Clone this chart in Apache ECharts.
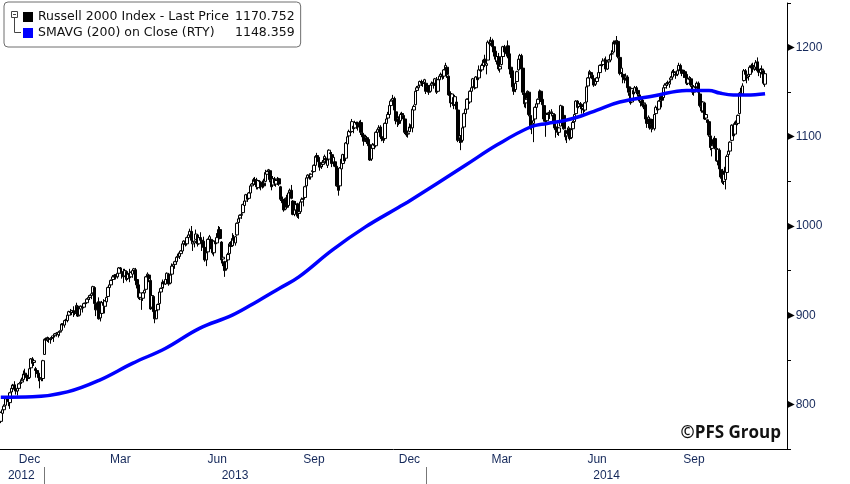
<!DOCTYPE html>
<html>
<head>
<meta charset="utf-8">
<title>Russell 2000 Index</title>
<script src="https://cdn.jsdelivr.net/npm/echarts@6/dist/echarts.min.js"></script>
<style>
  html, body { margin: 0; padding: 0; background: #fff; }
  #chart { width: 850px; height: 484px; }
</style>
</head>
<body>
<div id="chart"></div>
<script>
// trading calendar: weekdays from Nov 19 2012 to Dec 11 2014, minus exchange holidays
const firstDay = '2012-11-19'
const lastDay = '2014-12-11'
const holidays = [
  '2012-11-22', '2012-12-25',
  '2013-01-01', '2013-01-21', '2013-02-18', '2013-03-29', '2013-05-27', '2013-07-04', '2013-09-02', '2013-11-28', '2013-12-25',
  '2014-01-01', '2014-01-20', '2014-02-17', '2014-04-18', '2014-05-26', '2014-07-04', '2014-09-01', '2014-11-27'
]

// daily bars, one row per trading day starting Nov 19 2012: [open, close, low, high]
const ohlc = [
  // 2012-11
  [781,791,779,792],[790,794,785,795],[794,798,792,800],[799,808,798,809],[807,806,801,808],[806,803,798,810],[802,813,795,814],[814,818,811,822],[818,821,814,823],
  // 2012-12
  [822,817,815,826],[817,815,811,819],[815,818,810,820],[818,823,816,824],[824,825,819,828],
  [825,827,823,830],[828,834,827,838],[835,833,830,840],[833,830,826,835],[830,829,826,832],
  [830,840,829,841],[841,851,839,852],[851,846,844,853],[847,849,843,850],[840,838,830,842],
  [838,835,834,840],[835,830,826,837],[830,829,818,832],[828,829,826,834],[829,849,826,850],
  // 2013-01
  [856,873,856,874],[873,872,868,875],[872,875,870,876],[874,873,869,875],[873,873,868,875],
  [874,875,872,877],[877,877,870,879],[877,879,875,880],[879,880,876,881],[878,881,875,882],
  [881,882,877,883],[883,890,883,891],[890,889,885,891],[889,894,886,895],[894,894,889,896],
  [894,900,892,901],[900,904,899,905],[904,903,900,907],[903,905,900,906],[905,903,898,910],[903,902,900,905],
  // 2013-02
  [903,911,903,914],[910,899,898,911],[900,909,900,910],[907,910,904,911],[910,908,903,911],
  [909,913,908,914],[913,914,910,915],[914,918,913,919],[918,920,916,922],[920,922,917,923],
  [922,924,918,926],[925,932,924,933],[931,913,912,932],[912,906,899,913],[907,914,906,915],
  [915,896,895,920],[897,902,893,904],[902,914,901,916],[914,911,909,918],
  // 2013-03
  [910,916,902,917],[915,920,910,921],[921,931,921,932],[931,934,930,936],[934,939,932,940],
  [940,943,937,945],[943,945,940,946],[945,943,940,946],[943,947,941,948],[947,953,947,954],
  [953,952,948,954],[947,948,941,952],[949,943,936,952],[944,950,944,952],[949,940,938,949],
  [941,946,940,947],[947,942,937,952],[943,948,942,949],[946,950,942,951],[950,952,948,953],
  // 2013-04
  [951,939,937,953],[940,934,930,941],[934,920,918,936],[920,925,917,926],[918,918,906,919],
  [919,925,916,926],[925,928,923,930],[929,943,929,944],[943,946,941,948],[945,941,937,946],
  [939,907,906,941],[909,922,909,923],[921,904,900,922],[905,896,891,907],[896,905,896,907],
  [906,912,901,913],[913,926,912,927],[926,930,924,931],[931,937,930,940],[937,935,930,938],
  [935,940,934,942],[940,947,937,948],
  // 2013-05
  [946,935,933,947],[936,945,936,946],[946,955,945,958],[955,957,953,959],[957,960,952,961],
  [960,965,957,966],[965,966,962,969],[966,970,963,971],[969,972,966,973],[972,980,971,981],
  [980,983,977,984],[983,979,977,985],[980,987,978,988],[987,990,985,992],[990,994,988,997],
  [994,984,981,1000],[980,982,972,985],[981,983,976,984],[985,991,985,996],[990,980,977,991],
  [980,987,979,989],[987,984,983,993],
  // 2013-06
  [984,983,972,985],[983,976,972,988],[976,962,960,977],[962,970,955,971],[971,985,970,986],
  [985,988,984,990],[985,977,974,987],[978,970,968,982],[970,983,966,984],[983,980,977,985],
  [981,987,980,992],[987,996,986,1000],[996,986,985,999],[982,962,958,983],[963,965,955,968],
  [960,950,943,961],[952,960,950,962],[962,968,960,970],[969,980,968,982],[979,977,973,983],
  // 2013-07
  [978,986,978,992],[985,984,978,990],[981,988,978,989],[990,1003,989,1004],[1004,1008,1003,1010],
  [1009,1012,1004,1013],[1012,1013,1008,1015],[1015,1024,1014,1025],[1023,1028,1021,1029],[1028,1035,1027,1036],
  [1035,1030,1027,1036],[1031,1037,1030,1038],[1037,1045,1036,1047],[1045,1047,1041,1048],[1047,1052,1046,1054],
  [1052,1050,1046,1055],[1051,1044,1041,1054],[1043,1051,1041,1052],[1050,1050,1042,1051],[1049,1044,1040,1050],
  [1045,1047,1042,1051],[1048,1045,1043,1053],
  // 2013-08
  [1050,1060,1049,1063],[1058,1061,1054,1062],[1061,1063,1057,1064],[1062,1052,1049,1063],[1051,1044,1040,1052],
  [1046,1053,1044,1056],[1053,1048,1045,1055],[1047,1051,1044,1052],[1052,1053,1046,1055],[1053,1047,1045,1054],
  [1044,1030,1028,1045],[1030,1026,1023,1033],[1027,1018,1016,1030],[1019,1031,1018,1032],[1030,1021,1019,1035],
  [1023,1037,1022,1038],[1038,1040,1035,1042],[1040,1031,1030,1046],[1028,1013,1012,1029],[1013,1018,1011,1022],
  [1018,1024,1015,1028],[1025,1011,1009,1026],
  // 2013-09
  [1014,1016,1008,1022],[1016,1027,1014,1028],[1027,1030,1025,1032],[1031,1030,1022,1034],[1032,1044,1031,1045],
  [1045,1054,1044,1055],[1054,1057,1052,1058],[1057,1054,1052,1059],[1055,1058,1052,1059],[1062,1061,1057,1066],
  [1061,1068,1060,1069],[1068,1078,1064,1079],[1079,1077,1073,1082],[1077,1072,1070,1078],[1071,1066,1062,1073],
  [1067,1069,1064,1072],[1069,1071,1066,1074],[1072,1078,1071,1080],[1076,1074,1070,1077],[1068,1074,1065,1076],
  // 2013-10
  [1075,1085,1074,1086],[1082,1081,1074,1083],[1080,1070,1066,1083],[1070,1077,1068,1078],[1072,1067,1066,1076],
  [1067,1045,1044,1068],[1046,1040,1034,1050],[1045,1065,1045,1066],[1064,1075,1063,1076],[1070,1080,1068,1081],
  [1080,1073,1071,1084],[1076,1093,1076,1094],[1092,1100,1090,1101],[1101,1106,1099,1108],[1106,1105,1101,1109],
  [1106,1117,1106,1120],[1112,1109,1104,1114],[1110,1116,1109,1118],[1116,1114,1109,1117],[1114,1111,1107,1117],
  [1112,1116,1110,1118],[1116,1105,1102,1119],[1104,1100,1097,1108],
  // 2013-11
  [1102,1095,1090,1104],[1096,1100,1094,1102],[1099,1096,1092,1101],[1097,1090,1087,1098],[1091,1074,1073,1093],
  [1075,1087,1073,1088],[1087,1091,1086,1093],[1090,1092,1086,1094],[1090,1105,1088,1106],[1105,1108,1103,1110],
  [1108,1110,1106,1113],[1111,1100,1098,1113],[1100,1098,1095,1103],[1099,1096,1093,1104],[1098,1115,1098,1116],
  [1115,1120,1114,1121],[1121,1125,1119,1128],[1125,1135,1124,1137],[1135,1140,1134,1142],[1141,1143,1139,1147],
  // 2013-12
  [1143,1130,1127,1145],[1128,1118,1114,1130],[1117,1121,1111,1124],[1120,1115,1113,1123],[1118,1125,1116,1127],
  [1126,1125,1121,1128],[1124,1120,1117,1126],[1120,1105,1103,1121],[1105,1102,1100,1108],[1103,1104,1099,1107],
  [1106,1111,1105,1115],[1111,1110,1106,1114],[1110,1131,1105,1132],[1130,1134,1127,1136],[1136,1151,1135,1152],
  [1152,1155,1150,1157],[1155,1157,1154,1158],[1158,1162,1157,1163],[1162,1160,1157,1164],[1160,1160,1156,1162],
  [1161,1164,1158,1165],
  // 2014-01
  [1160,1151,1148,1161],[1151,1156,1150,1158],[1157,1150,1147,1158],[1151,1158,1150,1159],[1158,1160,1155,1162],
  [1161,1159,1154,1163],[1160,1165,1157,1166],[1164,1150,1148,1167],[1151,1164,1150,1165],[1164,1168,1162,1170],
  [1168,1170,1165,1172],[1170,1167,1164,1172],[1168,1175,1165,1176],[1175,1180,1173,1183],[1178,1170,1166,1179],
  [1168,1147,1146,1169],[1148,1138,1133,1151],[1138,1148,1137,1149],[1144,1135,1131,1146],[1136,1145,1135,1147],
  [1139,1131,1125,1140],
  // 2014-02
  [1130,1096,1094,1132],[1097,1101,1093,1106],[1099,1094,1085,1102],[1096,1110,1095,1111],[1111,1126,1108,1127],
  [1126,1131,1124,1132],[1131,1142,1130,1143],[1142,1143,1138,1145],[1139,1151,1137,1152],[1151,1155,1148,1157],
  [1156,1165,1155,1166],[1164,1155,1153,1167],[1155,1167,1154,1168],[1167,1164,1162,1171],[1166,1175,1165,1180],
  [1175,1174,1169,1177],[1175,1180,1173,1182],[1180,1186,1177,1187],[1187,1183,1178,1192],
  // 2014-03
  [1180,1182,1170,1184],[1186,1206,1186,1208],[1206,1204,1200,1209],[1205,1207,1202,1212],[1208,1201,1196,1210],
  [1201,1195,1190,1202],[1196,1187,1184,1198],[1185,1190,1181,1191],[1190,1176,1174,1194],[1176,1179,1172,1181],
  [1181,1190,1180,1192],[1190,1201,1189,1202],[1201,1195,1190,1203],[1193,1200,1190,1201],[1202,1192,1188,1208],
  [1193,1176,1170,1194],[1178,1172,1166,1181],[1174,1156,1155,1176],[1155,1151,1147,1158],[1153,1160,1150,1165],
  [1162,1173,1161,1174],
  // 2014-04
  [1175,1187,1174,1188],[1187,1191,1185,1193],[1191,1176,1173,1193],[1177,1150,1147,1181],[1149,1137,1133,1151],
  [1138,1142,1132,1144],[1143,1151,1141,1152],[1150,1125,1123,1151],[1124,1111,1108,1125],[1113,1114,1103,1118],
  [1115,1118,1094,1120],[1120,1133,1118,1134],[1133,1137,1129,1138],[1137,1142,1134,1143],[1143,1151,1142,1153],
  [1151,1141,1139,1152],[1142,1136,1129,1145],[1135,1120,1117,1136],[1121,1117,1100,1122],[1118,1125,1116,1127],
  [1125,1127,1120,1128],
  // 2014-05
  [1127,1126,1120,1130],[1127,1128,1123,1131],[1124,1126,1115,1127],[1125,1110,1109,1126],[1111,1108,1099,1113],
  [1109,1105,1102,1115],[1105,1110,1101,1111],[1112,1135,1112,1136],[1134,1124,1122,1135],[1124,1109,1108,1125],
  [1107,1100,1096,1108],[1101,1104,1093,1105],[1102,1110,1101,1112],[1109,1098,1096,1110],[1099,1108,1098,1110],
  [1109,1116,1108,1118],[1117,1125,1116,1126],[1126,1140,1126,1141],[1140,1133,1131,1141],[1134,1137,1132,1139],
  [1137,1135,1131,1139],
  // 2014-06
  [1136,1134,1126,1137],[1132,1130,1125,1134],[1130,1138,1128,1139],[1139,1156,1138,1157],[1157,1166,1156,1167],
  [1166,1173,1165,1175],[1172,1170,1166,1173],[1169,1165,1162,1171],[1165,1158,1156,1167],[1159,1162,1157,1164],
  [1162,1166,1159,1167],[1166,1172,1164,1174],[1172,1180,1170,1181],[1181,1180,1176,1183],[1181,1185,1179,1188],
  [1186,1186,1180,1188],[1186,1176,1173,1190],[1176,1184,1175,1186],[1184,1186,1179,1187],[1186,1192,1184,1193],
  [1193,1193,1189,1197],
  // 2014-07
  [1195,1206,1194,1208],[1206,1204,1200,1208],[1205,1208,1203,1213],[1207,1190,1188,1208],[1189,1171,1169,1190],
  [1172,1177,1170,1179],[1170,1167,1160,1172],[1168,1164,1160,1170],[1166,1168,1163,1171],[1167,1155,1151,1169],
  [1156,1150,1146,1158],[1149,1138,1136,1152],[1139,1154,1138,1155],[1152,1148,1144,1153],[1150,1155,1149,1157],
  [1155,1151,1148,1157],[1152,1148,1145,1154],[1147,1140,1138,1148],[1140,1142,1134,1144],[1141,1135,1133,1145],
  [1137,1138,1131,1141],[1136,1120,1118,1137],
  // 2014-08
  [1120,1115,1110,1123],[1116,1122,1113,1124],[1120,1110,1108,1122],[1109,1114,1105,1118],[1115,1110,1108,1120],
  [1109,1125,1107,1126],[1126,1133,1125,1135],[1133,1130,1127,1135],[1131,1140,1130,1141],[1140,1145,1138,1146],
  [1145,1141,1133,1148],[1144,1155,1144,1156],[1155,1158,1153,1160],[1158,1160,1154,1161],[1161,1160,1157,1163],
  [1159,1161,1155,1163],[1164,1166,1161,1168],[1167,1173,1166,1175],[1173,1172,1169,1176],[1170,1169,1165,1172],
  [1170,1174,1168,1176],
  // 2014-09
  [1175,1180,1173,1183],[1180,1174,1172,1182],[1175,1171,1168,1178],[1171,1173,1166,1174],[1173,1170,1166,1175],
  [1170,1160,1158,1172],[1160,1165,1158,1166],[1164,1166,1161,1168],[1165,1158,1156,1167],[1157,1150,1147,1158],
  [1150,1156,1146,1158],[1156,1155,1152,1160],[1156,1160,1154,1162],[1160,1150,1148,1162],[1148,1135,1133,1150],
  [1134,1129,1127,1136],[1129,1139,1127,1140],[1138,1120,1119,1139],[1121,1125,1119,1127],[1119,1116,1108,1118],
  [1117,1102,1100,1119],
  // 2014-10
  [1101,1088,1085,1103],[1087,1090,1078,1093],[1091,1097,1089,1099],[1098,1088,1086,1101],[1087,1073,1072,1089],
  [1073,1086,1068,1087],[1085,1064,1062,1087],[1063,1055,1053,1070],[1056,1049,1047,1064],[1050,1058,1046,1062],
  [1052,1066,1041,1068],[1060,1078,1055,1080],[1080,1084,1077,1089],[1084,1094,1082,1095],[1096,1113,1095,1114],
  [1113,1101,1100,1115],[1103,1114,1102,1117],[1114,1118,1111,1119],[1115,1124,1113,1125],[1126,1149,1125,1150],
  [1149,1150,1140,1155],[1148,1157,1146,1160],[1163,1174,1162,1176],
  // 2014-11
  [1174,1170,1165,1176],[1167,1166,1160,1170],[1168,1170,1163,1172],[1170,1178,1167,1180],[1177,1180,1173,1182],
  [1180,1176,1172,1183],[1176,1179,1174,1181],[1178,1183,1175,1186],[1184,1174,1172,1189],[1174,1173,1168,1177],
  [1172,1176,1166,1177],[1176,1175,1170,1180],[1174,1160,1158,1175],[1159,1170.752,1156,1172]
]

// 200-day moving average
const smaDates = [
  '2012-11-19', '2012-12-19', '2013-01-24', '2013-02-25', '2013-03-27', '2013-04-29', '2013-05-30',
  '2013-07-01', '2013-07-25', '2013-08-14', '2013-09-03', '2013-10-03', '2013-11-04', '2013-12-05',
  '2013-12-13', '2014-02-10', '2014-03-12', '2014-04-11', '2014-04-29', '2014-05-14', '2014-05-30',
  '2014-06-16', '2014-07-08', '2014-08-08', '2014-09-09', '2014-09-30', '2014-10-09', '2014-10-22',
  '2014-11-04', '2014-11-20'
]
const smaValues = [
  808, 808.5, 814, 827, 846, 863, 885,
  900, 916, 930, 943, 973, 999, 1021,
  1027, 1068, 1091, 1111, 1115, 1118, 1123,
  1130, 1139, 1146, 1152, 1152, 1149, 1147,
  1147, 1148.359
]

const priceName = 'Russell 2000 Index - Last Price'
const smaName = 'SMAVG (200) on Close (RTY)'
const monthNames = ['Jan', 'Feb', 'Mar', 'Apr', 'May', 'Jun', 'Jul', 'Aug', 'Sep', 'Oct', 'Nov', 'Dec']
const labelMonths = ['Dec', 'Mar', 'Jun', 'Sep']

// build the category list
const dates = []
for (let t = Date.parse(firstDay); t <= Date.parse(lastDay); t += 86400000) {
  const d = new Date(t)
  const s = d.toISOString().slice(0, 10)
  if (d.getUTCDay() === 0 || d.getUTCDay() === 6 || holidays.includes(s)) continue
  dates.push(s)
}

// month / year groups for ticks and labels
const groupBy = (len) => {
  const groups = []
  dates.forEach((d, i) => {
    const key = d.slice(0, len)
    const last = groups[groups.length - 1]
    if (last && last.key === key) last.end = i
    else groups.push({ key, start: i, end: i })
  })
  return groups
}
const months = groupBy(7)
const years = groupBy(4)
const monthStart = new Set(months.slice(1).map(g => g.start))
const yearStart = new Set(years.slice(1).map(g => g.start))
const monthLabelIdx = new Set(months
  .filter(g => g.end - g.start >= 14 && labelMonths.includes(monthNames[+g.key.slice(5, 7) - 1]))
  .map(g => Math.floor((g.start + g.end + 1) / 2)))
const yearLabelIdx = new Set(years.map(g => Math.floor((g.start + g.end + 1) / 2)))

const smaData = smaDates.map((d, i) => [dates.indexOf(d), smaValues[i]])
const lastClose = ohlc[ohlc.length - 1][1]
const lastSma = smaValues[smaValues.length - 1]

const labelColor = '#14285a'

const chart = echarts.init(document.getElementById('chart'))
chart.setOption({
  animation: false,
  backgroundColor: '#fff',
  grid: { left: -2.4, right: 63, top: 3, bottom: 35 },
  legend: {
    left: 4,
    top: 2,
    orient: 'vertical',
    padding: [8, 6, 7, 19],
    itemGap: 2,
    itemWidth: 10,
    itemHeight: 10,
    backgroundColor: '#fff',
    borderColor: '#6e6e6e',
    borderWidth: 1,
    borderRadius: 4,
    selectedMode: false,
    data: [
      { name: priceName, icon: 'rect', itemStyle: { color: '#000', borderWidth: 0 } },
      { name: smaName, icon: 'rect', itemStyle: { color: '#0000ff', borderWidth: 0 } }
    ],
    formatter: name => `{n|${name}}{v|${(name === priceName ? lastClose : lastSma).toFixed(3)}}`,
    textStyle: {
      fontFamily: 'DejaVu Sans',
      fontSize: 12.5,
      color: '#111',
      lineHeight: 14,
      rich: {
        n: { width: 197, fontFamily: 'DejaVu Sans', fontSize: 12.5, color: '#111' },
        v: { fontFamily: 'DejaVu Sans', fontSize: 12.5, color: '#111' }
      }
    }
  },
  xAxis: [
    {
      type: 'category',
      data: dates,
      boundaryGap: true,
      axisLine: { lineStyle: { color: '#000', width: 1 } },
      axisTick: { interval: i => monthStart.has(i), length: 3, lineStyle: { color: '#000' } },
      axisLabel: {
        interval: i => monthLabelIdx.has(i),
        formatter: v => monthNames[+v.slice(5, 7) - 1],
        margin: 5,
        fontFamily: 'Liberation Sans',
        fontSize: 12,
        color: labelColor
      },
      splitLine: { show: false }
    },
    {
      type: 'category',
      data: dates,
      position: 'bottom',
      offset: 18,
      boundaryGap: false,
      axisLine: { show: false },
      axisTick: { show: true, interval: i => yearStart.has(i), length: 17, lineStyle: { color: '#777', width: 1 } },
      axisLabel: {
        interval: i => yearLabelIdx.has(i),
        formatter: v => v.slice(0, 4),
        margin: 3,
        fontFamily: 'Liberation Sans',
        fontSize: 12,
        color: labelColor
      },
      splitLine: { show: false }
    }
  ],
  yAxis: {
    type: 'value',
    position: 'right',
    min: 750,
    max: 1250,
    interval: 50,
    splitLine: { show: false },
    axisLine: { show: true, lineStyle: { color: '#000', width: 1 } },
    axisTick: { show: true, length: 4, lineStyle: { color: '#000' } },
    axisLabel: {
      margin: 0,
      formatter: v => (v % 100 === 0 ? `{t|▶}{v|${v}}` : ''),
      rich: {
        t: { fontFamily: 'DejaVu Sans', fontSize: 10, color: '#000' },
        v: { fontFamily: 'Liberation Sans', fontSize: 12, color: labelColor, padding: [0, 0, 0, 1] }
      }
    }
  },
  graphic: [
    { type: 'rect', z: 100, shape: { x: 11.5, y: 11.5, width: 6, height: 6 }, style: { fill: '#fff', stroke: '#444', lineWidth: 1 } },
    { type: 'line', z: 100, shape: { x1: 13, y1: 14.5, x2: 16, y2: 14.5 }, style: { stroke: '#444', lineWidth: 1 } },
    { type: 'polyline', z: 100, shape: { points: [[14.5, 17.5], [14.5, 32.5], [21, 32.5]] }, style: { stroke: '#444', lineWidth: 1, fill: null } },
    {
      type: 'text',
      z: 100,
      x: 781,
      y: 433,
      style: {
        text: '©PFS Group',
        fontFamily: 'Open Sans',
        fontWeight: 'bold',
        fontSize: 17,
        fill: '#111',
        align: 'right',
        verticalAlign: 'middle'
      }
    }
  ],
  series: [
    {
      name: priceName,
      type: 'candlestick',
      data: ohlc,
      barWidth: 3,
      itemStyle: {
        color: '#fff',
        color0: '#000',
        borderColor: '#000',
        borderColor0: '#000',
        borderColorDoji: '#000',
        borderWidth: 1
      },
      markLine: {
        silent: true,
        symbol: ['none', 'none'],
        lineStyle: { opacity: 0 },
        data: [{ yAxis: lastClose }],
        label: {
          position: 'end',
          distance: 0,
          formatter: () => `{p|◀}{b|${lastClose.toFixed(3)}}`,
          rich: {
            p: { fontFamily: 'DejaVu Sans', fontSize: 11, color: '#000' },
            b: { fontFamily: 'Liberation Sans', fontSize: 13, color: '#fff', backgroundColor: '#000', padding: [3, 1, 3, 1] }
          }
        }
      }
    },
    {
      name: smaName,
      type: 'line',
      data: smaData,
      symbol: 'none',
      smooth: 0.4,
      z: 3,
      lineStyle: { color: '#0000ff', width: 3.5 },
      itemStyle: { color: '#0000ff' },
      markLine: {
        silent: true,
        symbol: ['none', 'none'],
        lineStyle: { opacity: 0 },
        data: [{ yAxis: lastSma }],
        label: {
          position: 'end',
          distance: 0,
          formatter: () => `{p|◀}{b|${lastSma.toFixed(3)}}`,
          rich: {
            p: { fontFamily: 'DejaVu Sans', fontSize: 11, color: '#0000ff' },
            b: { fontFamily: 'Liberation Sans', fontSize: 13, color: '#fff', backgroundColor: '#0000ff', padding: [3, 1, 3, 1] }
          }
        }
      }
    }
  ]
})
</script>
</body>
</html>
